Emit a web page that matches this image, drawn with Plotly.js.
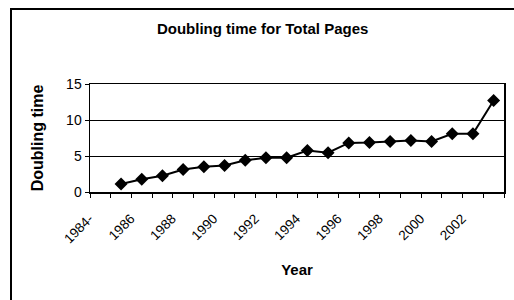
<!DOCTYPE html>
<html>
<head>
<meta charset="utf-8">
<script src="https://cdn.plot.ly/plotly-3.0.1.min.js"></script>
<style>
  html, body { margin: 0; padding: 0; background: #fff; }
  #chart { width: 514px; height: 300px; position: absolute; left: 0; top: 0; }
  #frame { position: absolute; left: 10px; top: 8px; width: 700px; height: 500px;
           border-left: 2px solid #000; border-top: 2px solid #000; pointer-events: none; }
</style>
</head>
<body>
<div id="chart"></div>
<div id="frame"></div>
<script>
// Data
var years = [1985, 1986, 1987, 1988, 1989, 1990, 1991, 1992, 1993, 1994,
             1995, 1996, 1997, 1998, 1999, 2000, 2001, 2002, 2003];
var doublingTime = [1.1, 1.77, 2.25, 3.13, 3.5, 3.68, 4.4, 4.77, 4.77, 5.77,
                    5.45, 6.82, 6.88, 7.02, 7.17, 7.02, 8.08, 8.08, 12.72];
var tickYears = [1984, 1986, 1988, 1990, 1992, 1994, 1996, 1998, 2000, 2002];
var tickLabels = ['1984-', '1986', '1988', '1990', '1992', '1994', '1996', '1998', '2000', '2002'];
var yTicks = [0, 5, 10, 15];

var FONT = 'Liberation Sans, Arial, sans-serif';

var trace = {
  x: years,
  y: doublingTime,
  type: 'scatter',
  mode: 'lines+markers',
  line: { color: '#000', width: 2 },
  marker: { symbol: 'diamond', size: 10, color: '#000' },
  hoverinfo: 'x+y'
};

var layout = {
  width: 514,
  height: 300,
  margin: { l: 90, r: 10, t: 84, b: 108 },
  paper_bgcolor: '#fff',
  plot_bgcolor: '#fff',
  showlegend: false,
  font: { family: FONT, color: '#000', size: 12 },
  title: {
    text: '<b>Doubling time for Total Pages</b>',
    font: { family: FONT, size: 15, color: '#000' },
    xref: 'container', yref: 'container',
    x: 0.511, y: 0.903, xanchor: 'center', yanchor: 'middle'
  },
  xaxis: {
    type: 'linear',
    range: [1983.5, 2003.5],
    tickmode: 'array',
    tickvals: tickYears,
    ticktext: tickLabels,
    ticks: '',
    tickangle: -45,
    ticklabelshift: -11,
    ticklabelstandoff: 12,
    tickfont: { family: FONT, size: 13.5, color: '#000' },
    showgrid: false,
    zeroline: false,
    showline: true,
    linecolor: '#000',
    linewidth: 1.5,
    mirror: true,
    minor: { tick0: 1983.5, dtick: 1, ticks: 'outside', ticklen: 4, tickcolor: '#000', tickwidth: 1, showgrid: false },
    title: { text: '<b>Year</b>', font: { family: FONT, size: 15, color: '#000' }, standoff: 19 }
  },
  yaxis: {
    range: [0, 15],
    tickmode: 'array',
    tickvals: yTicks,
    ticks: 'outside',
    ticklen: 4,
    tickcolor: '#000',
    tickfont: { family: FONT, size: 14, color: '#000' },
    showgrid: true,
    gridcolor: '#000',
    gridwidth: 1,
    zeroline: false,
    showline: true,
    linecolor: '#000',
    linewidth: 1.5,
    mirror: true,
    title: { text: '<b>Doubling time</b>', font: { family: FONT, size: 16, color: '#000' }, standoff: 18 }
  }
};

Plotly.newPlot('chart', [trace], layout, { displayModeBar: false, staticPlot: true });
</script>
</body>
</html>
